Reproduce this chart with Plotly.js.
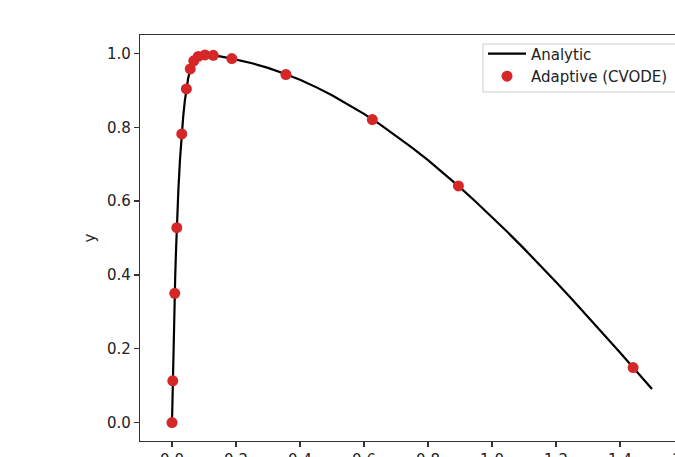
<!DOCTYPE html>
<html>
<head>
<meta charset="utf-8">
<script src="https://cdn.plot.ly/plotly-3.0.1.min.js"></script>
<style>
html, body { margin: 0; padding: 0; overflow: hidden; background: #ffffff; }
#chart { width: 740px; height: 500px; }
</style>
</head>
<body>
<div id="chart"></div>
<script>
// Analytic solution curve
var analyticT = [0, 0.002, 0.004, 0.006, 0.008, 0.010, 0.0125, 0.015, 0.020, 0.025, 0.030, 0.035, 0.040, 0.045, 0.050, 0.055, 0.060, 0.067, 0.075, 0.082, 0.090, 0.100, 0.115, 0.130, 0.150, 0.187, 0.20, 0.25, 0.30, 0.35, 0.40, 0.45, 0.50, 0.55, 0.60, 0.65, 0.70, 0.75, 0.80, 0.85, 0.90, 0.95, 1.00, 1.05, 1.10, 1.15, 1.20, 1.25, 1.30, 1.35, 1.40, 1.45, 1.50];
var analyticY = [0, 0.095, 0.181, 0.259, 0.330, 0.394, 0.465, 0.528, 0.632, 0.713, 0.777, 0.829, 0.871, 0.904, 0.930, 0.950, 0.964, 0.977, 0.986, 0.991, 0.994, 0.996, 0.996, 0.995, 0.992, 0.986, 0.9836, 0.9735, 0.9609, 0.9459, 0.9285, 0.9088, 0.8868, 0.8626, 0.8363, 0.8079, 0.7774, 0.7450, 0.7108, 0.6747, 0.6370, 0.5977, 0.5569, 0.5147, 0.4712, 0.4266, 0.3808, 0.3342, 0.2867, 0.2384, 0.1896, 0.1403, 0.0907];

// Adaptive (CVODE) solver points
var cvodeT = [0, 0.0024, 0.0086, 0.015, 0.0305, 0.045, 0.057, 0.068, 0.082, 0.103, 0.129, 0.187, 0.356, 0.626, 0.895, 1.441];
var cvodeY = [0, 0.113, 0.350, 0.528, 0.782, 0.904, 0.958, 0.980, 0.992, 0.996, 0.995, 0.986, 0.943, 0.821, 0.641, 0.149];

var xTicks = [0.0, 0.2, 0.4, 0.6, 0.8, 1.0, 1.2, 1.4, 1.6];
var yTicks = [0.0, 0.2, 0.4, 0.6, 0.8, 1.0];

var traces = [
  {
    x: analyticT, y: analyticY, mode: 'lines', name: 'Analytic',
    line: { color: '#000000', width: 2.2 }
  },
  {
    x: cvodeT, y: cvodeY, mode: 'markers', name: 'Adaptive (CVODE)',
    marker: { color: '#d62728', size: 11 }
  }
];

var FONT = 'DejaVu Sans';
var axisCommon = {
  showgrid: false, zeroline: false, showline: true, mirror: true,
  linecolor: '#333333', linewidth: 1.2,
  ticks: 'outside', ticklen: 5, tickwidth: 1.2, tickcolor: '#333333',
  tickfont: { family: FONT, size: 15, color: '#222222' }
};

var layout = {
  width: 740, height: 500,
  margin: { l: 140, r: 56, t: 35, b: 59 },
  paper_bgcolor: '#ffffff', plot_bgcolor: '#ffffff',
  font: { family: FONT, size: 15, color: '#222222' },
  showlegend: true,
  xaxis: Object.assign({}, axisCommon, {
    range: [-0.1, 1.6], tickvals: xTicks, ticktext: xTicks.map(function(v){return v.toFixed(1);}),
    title: { text: 't', font: { family: FONT, size: 15 } }
  }),
  yaxis: Object.assign({}, axisCommon, {
    range: [-0.05, 1.05], tickvals: yTicks, ticktext: yTicks.map(function(v){return v.toFixed(1);}),
    title: { text: 'y', font: { family: FONT, size: 15 }, standoff: 7 }
  }),
  shapes: [{
    type: 'rect', xref: 'paper', yref: 'paper', layer: 'above',
    x0: 0.6305, x1: 1.03, y0: 0.8596, y1: 0.9778,
    line: { color: '#cccccc', width: 1 }, fillcolor: 'rgba(255,255,255,0.8)'
  }],
  legend: {
    x: 0.6305, y: 0.994, xanchor: 'left', yanchor: 'top',
    bgcolor: 'rgba(0,0,0,0)', borderwidth: 0,
    font: { family: FONT, size: 15, color: '#222222' },
    itemwidth: 38,
    tracegroupgap: 0
  }
};

Plotly.newPlot('chart', traces, layout, { displayModeBar: false, staticPlot: true });
</script>
</body>
</html>
